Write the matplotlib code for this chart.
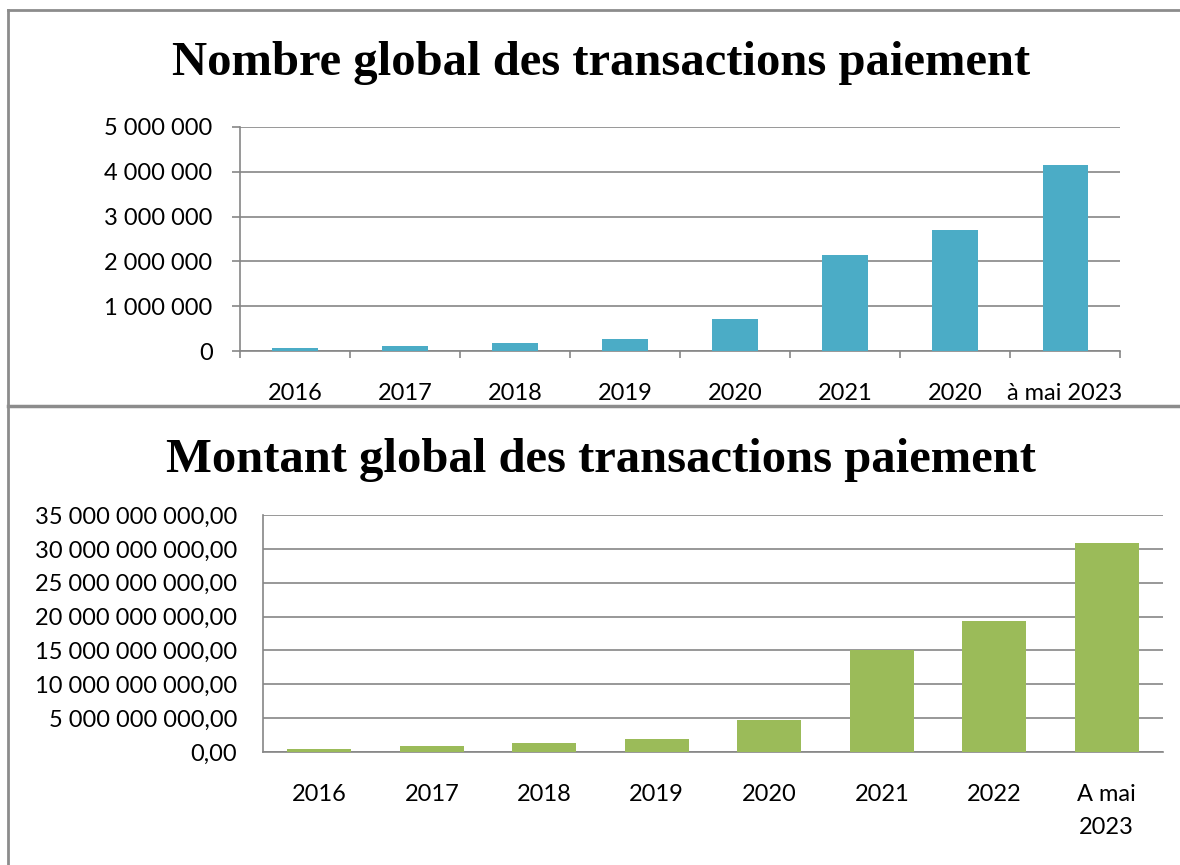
import matplotlib
matplotlib.use('Agg')
import matplotlib.pyplot as plt
from matplotlib.lines import Line2D
from matplotlib.ticker import FuncFormatter, FixedLocator

# Data
annees_nombre = ['2016', '2017', '2018', '2019', '2020', '2021', '2020', 'à mai 2023']
nombre = [60000, 120000, 190000, 270000, 710000, 2140000, 2700000, 4150000]

annees_montant = ['2016', '2017', '2018', '2019', '2020', '2021', '2022', 'A mai\n2023']
montant = [0.44e9, 0.89e9, 1.33e9, 1.86e9, 4.73e9, 15.06e9, 19.3e9, 30.8e9]

grey = '#868686'
label_font = 'Lato'
title_font = 'Liberation Serif'

fig = plt.figure(figsize=(11.8, 8.65), dpi=100)

# Frame lines around the two charts
fig.add_artist(Line2D([0.0068, 1.0], [0.9884, 0.9884], color='#8c8c8c', lw=2))
fig.add_artist(Line2D([0.0068, 1.0], [0.5306, 0.5306], color='#8c8c8c', lw=2.5))
fig.add_artist(Line2D([0.0068, 0.0068], [0.0, 0.9884], color='#8c8c8c', lw=2))

# ---- Top chart: nombre de transactions
ax1 = fig.add_axes([0.2034, 0.5942, 0.7458, 0.259])
x1 = range(len(nombre))
ax1.bar(x1, nombre, width=0.41, color='#4BACC6', zorder=3)
ax1.set_xlim(-0.5, len(nombre) - 0.5)
ax1.set_ylim(0, 5000000)
ax1.set_yticks(range(0, 5000001, 1000000))
ax1.yaxis.set_major_formatter(FuncFormatter(lambda v, p: '{:,.0f}'.format(v).replace(',', ' ')))
ax1.xaxis.set_major_locator(FixedLocator([i - 0.5 for i in range(len(nombre) + 1)]))
ax1.xaxis.set_minor_locator(FixedLocator(list(x1)))
ax1.set_xticklabels([], minor=False)
ax1.set_xticklabels(annees_nombre, minor=True)
ax1.tick_params(axis='x', which='major', length=5, width=1.2, color=grey, direction='out')
ax1.tick_params(axis='x', which='minor', length=0, pad=23)
ax1.tick_params(axis='y', length=5.8, width=1.2, color=grey, pad=14)
ax1.grid(axis='y', color=grey, lw=1.2, zorder=0)
for s in ['top', 'right']:
    ax1.spines[s].set_visible(False)
for s in ['left', 'bottom']:
    ax1.spines[s].set_color(grey)
    ax1.spines[s].set_linewidth(1.2)
for lab in ax1.get_xticklabels(minor=True) + ax1.get_yticklabels():
    lab.set_fontfamily(label_font)
    lab.set_fontsize(17)
fig.text(0.509, 1 - 75 / 865, 'Nombre global des transactions paiement', ha='center', va='baseline',
         fontsize=35, fontweight='bold', family=title_font)

# ---- Bottom chart: montant des transactions
ax2 = fig.add_axes([0.2229, 0.1306, 0.7627, 0.274])
x2 = range(len(montant))
ax2.bar(x2, montant, width=0.57, color='#9BBB59', zorder=3)
ax2.set_xlim(-0.5, len(montant) - 0.5)
ax2.set_ylim(0, 35e9)
ax2.set_yticks([i * 5e9 for i in range(8)])
ax2.yaxis.set_major_formatter(FuncFormatter(
    lambda v, p: '{:,.2f}'.format(v).replace(',', ' ').replace('.', ',')))
ax2.set_xticks(list(x2))
ax2.set_xticklabels(annees_montant)
ax2.tick_params(axis='x', length=0, pad=23)
ax2.tick_params(axis='y', length=0, pad=18.5)
ax2.grid(axis='y', color=grey, lw=1.2, zorder=0)
for s in ['top', 'right']:
    ax2.spines[s].set_visible(False)
for s in ['left', 'bottom']:
    ax2.spines[s].set_color(grey)
    ax2.spines[s].set_linewidth(1.2)
for lab in ax2.get_xticklabels() + ax2.get_yticklabels():
    lab.set_fontfamily(label_font)
    lab.set_fontsize(17)
    lab.set_linespacing(1.7)
fig.text(0.509, 1 - 472 / 865, 'Montant global des transactions paiement', ha='center', va='baseline',
         fontsize=35, fontweight='bold', family=title_font)

fig.savefig('out.png', dpi=100)
